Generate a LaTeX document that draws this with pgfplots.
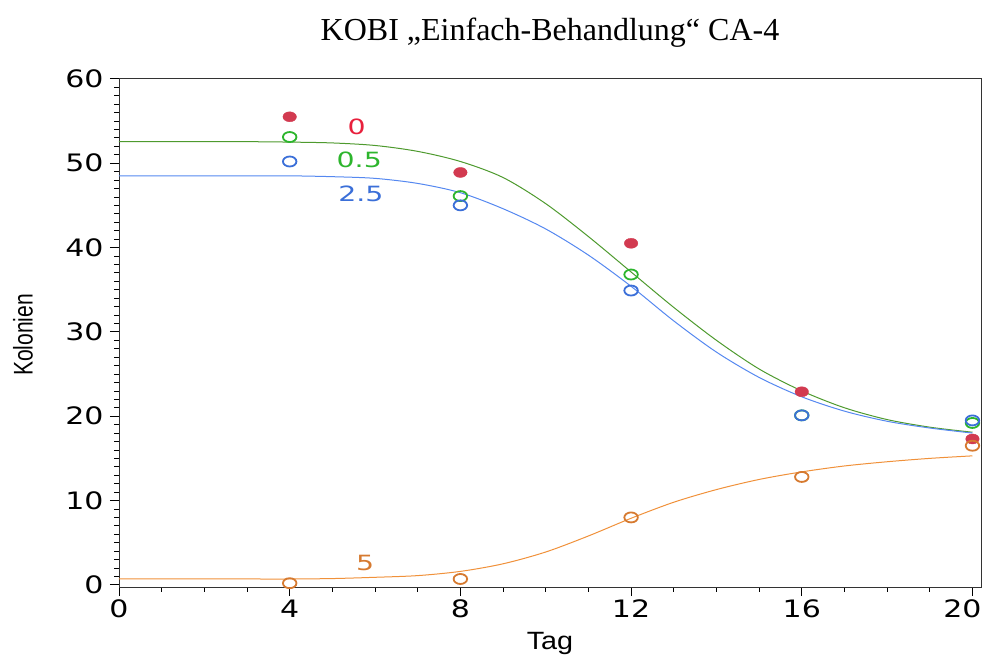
\documentclass[border=0pt]{standalone}
\usepackage{pgfplots}
\pgfplotsset{compat=1.18}
\usepackage{fontspec}
\setmainfont{Liberation Serif}
\newfontfamily\tickfont{DejaVu Sans}[FakeStretch=1.25]
\newfontfamily\lblfont{DejaVu Sans}[FakeStretch=1.35]
\newfontfamily\ylabfont{Liberation Sans}[FakeStretch=0.78]
\newfontfamily\xlabfont{Liberation Sans}[FakeStretch=1.15]
\definecolor{cred}{HTML}{D23A50}
\definecolor{credl}{HTML}{E8203C}
\definecolor{cgreen}{HTML}{2DB52D}
\definecolor{cgreenl}{HTML}{4E9A2E}
\definecolor{cblue}{HTML}{3B6FD8}
\definecolor{cbluel}{HTML}{5588F0}
\definecolor{corange}{HTML}{D67A30}
\definecolor{corangel}{HTML}{F0913A}
\begin{document}
\begin{tikzpicture}
\useasboundingbox (-119bp,-68bp) rectangle (865bp,587bp);
\begin{axis}[
  at={(0bp,0bp)}, anchor=south west,
  scale only axis, width=862bp, height=509bp,
  xmin=0, xmax=20.2, ymin=-0.25, ymax=60.1,
  xtick={0,4,8,12,16,20}, ytick={0,10,20,30,40,50,60},
  minor x tick num=3, minor y tick num=9,
  tick align=outside, xtick pos=left, ytick pos=left,
  major tick length=9bp, minor tick length=4.5bp,
  every tick/.style={black, line width=0.8bp},
  axis line style={black!80, line width=0.9bp},
  /pgf/number format/assume math mode=true,
  ticklabel style={font=\tickfont\fontsize{24bp}{28bp}\selectfont},
  yticklabel style={xshift=-3bp},
  xticklabel={\ifdim\tick pt>19pt\hspace*{-20bp}\fi\axisdefaultticklabel},
  clip=false,
]
% fitted curves
\addplot[cgreenl, line width=1bp, smooth] coordinates {
(0,52.55)(1,52.55)(2,52.55)(3,52.55)(4,52.5)(5,52.4)(6,52.1)(7,51.4)(8,50.2)(9,48.3)(10,45.2)(11,41.3)(12,37.1)(13,32.9)(14,29.0)(15,25.6)(16,23.0)(17,21.0)(18,19.6)(19,18.7)(20,18.1)};
\addplot[cbluel, line width=1bp, smooth] coordinates {
(0,48.5)(1,48.5)(2,48.5)(3,48.5)(4,48.5)(5,48.4)(6,48.2)(7,47.6)(8,46.5)(9,44.6)(10,42.2)(11,39.1)(12,35.4)(13,31.3)(14,27.6)(15,24.6)(16,22.3)(17,20.6)(18,19.4)(19,18.6)(20,18.0)};
\addplot[corangel, line width=1bp, smooth] coordinates {
(0,0.7)(1,0.7)(2,0.7)(3,0.7)(4,0.7)(5,0.75)(6,0.9)(7,1.1)(8,1.6)(9,2.5)(10,3.9)(11,5.8)(12,7.9)(13,9.8)(14,11.3)(15,12.5)(16,13.4)(17,14.1)(18,14.6)(19,15.0)(20,15.3)};
% observations
\addplot[only marks, mark=*, mark size=5bp, mark options={draw=cred, fill=cred, xscale=1.35}] coordinates {
(4,55.5)(8,48.9)(12,40.5)(16,22.9)(20,17.3)};
\addplot[only marks, mark=o, mark size=5bp, mark options={draw=cgreen, line width=1.8bp, xscale=1.35}] coordinates {
(4,53.1)(8,46.1)(12,36.8)(16,20.1)(20,19.2)};
\addplot[only marks, mark=o, mark size=5bp, mark options={draw=cblue, line width=1.8bp, xscale=1.35}] coordinates {
(4,50.2)(8,45.0)(12,34.9)(16,20.1)(20,19.5)};
\addplot[only marks, mark=o, mark size=5bp, mark options={draw=corange, line width=1.8bp, xscale=1.35}] coordinates {
(4,0.2)(8,0.7)(12,8.0)(16,12.8)(20,16.5)};
% curve labels
\node[text=credl, font=\lblfont\fontsize{21bp}{24bp}\selectfont] at (axis cs:5.57,54.3) {0};
\node[text=cgreen, font=\lblfont\fontsize{21bp}{24bp}\selectfont] at (axis cs:5.63,50.45) {0.5};
\node[text=cblue, font=\lblfont\fontsize{21bp}{24bp}\selectfont] at (axis cs:5.67,46.35) {2.5};
\node[text=corange, font=\lblfont\fontsize{21bp}{24bp}\selectfont] at (axis cs:5.77,2.57) {5};
\end{axis}
\node[font=\fontsize{32bp}{36bp}\selectfont, anchor=base] at (431bp,546bp) {KOBI „Einfach-Behandlung“ CA-4};
\node[font=\ylabfont\fontsize{27bp}{30bp}\selectfont, rotate=90] at (-96bp,252bp) {Kolonien};
\node[font=\xlabfont\fontsize{25bp}{30bp}\selectfont, anchor=base] at (431bp,-62bp) {Tag};
\end{tikzpicture}
\end{document}
